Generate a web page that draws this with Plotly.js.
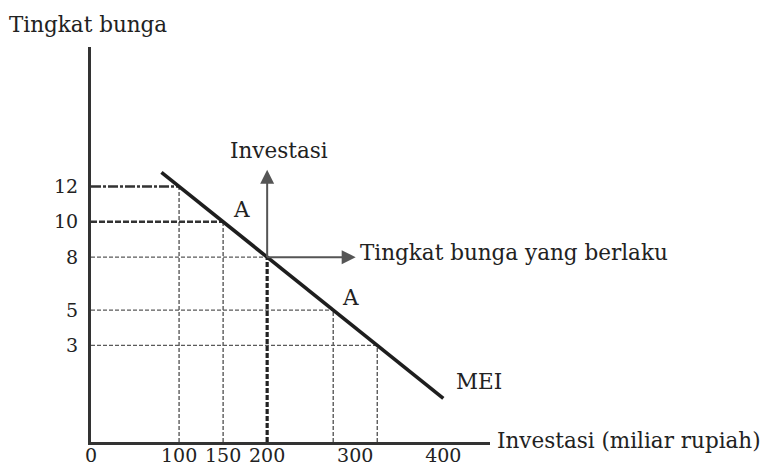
<!DOCTYPE html>
<html>
<head>
<meta charset="utf-8">
<script src="https://cdn.plot.ly/plotly-3.0.1.min.js"></script>
<style>html,body{margin:0;padding:0;background:#fff;}#chart{width:763px;height:465px;}</style>
</head>
<body>
<div id="chart"></div>
<script>
// Data
const rates = [12, 10, 8, 5, 3];               // Tingkat bunga (%)
const invest = [100, 150, 200, 275, 325];      // Investasi (miliar rupiah) at each rate
const meiInvest = [80, 400];                   // MEI curve ends
const meiRate = [12.8, 0];
const xTickVals = [0, 100, 150, 200, 300, 400];
const xTickText = ['0', '100', '150', '200', '300', '400'];
const yTickVals = [12, 10, 8, 5, 3];
const yTickText = ['12', '10', '8', '5', '3'];
const eqIndex = 2;  // prevailing rate (8 %)

// Styles
const FONT = 'DejaVu Serif';
const INK = '#222';
const GUIDE = '#5a5a5a';
const xRange = [0, 453];
const yRange = [-2.47, 19.9];
const hStyle = [
  {w: 2.6, dash: '10px,2px,3px,2px', c: '#333'},
  {w: 2.6, dash: '6px,2px', c: '#333'},
  {w: 1.4, dash: '4px,2px', c: GUIDE},
  {w: 1.4, dash: '4px,2px', c: GUIDE},
  {w: 1.4, dash: '4px,2px', c: GUIDE}
];
const vStyle = [
  {w: 1.4, dash: '4px,2px', c: GUIDE},
  {w: 1.4, dash: '4px,2px', c: GUIDE},
  {w: 3.2, dash: '5px,2px', c: '#222'},
  {w: 1.4, dash: '4px,2px', c: GUIDE},
  {w: 1.4, dash: '4px,2px', c: GUIDE}
];

const traces = [];
rates.forEach((r, i) => {
  traces.push({x: [xRange[0], invest[i]], y: [r, r], mode: 'lines', hoverinfo: 'skip',
    line: {color: hStyle[i].c, width: hStyle[i].w, dash: hStyle[i].dash}});
  traces.push({x: [invest[i], invest[i]], y: [yRange[0], r], mode: 'lines', hoverinfo: 'skip',
    line: {color: vStyle[i].c, width: vStyle[i].w, dash: vStyle[i].dash}});
});
traces.push({x: meiInvest, y: meiRate, mode: 'lines', name: 'MEI',
  line: {color: '#1e1e1e', width: 3.6}});

const ex = invest[eqIndex], ey = rates[eqIndex];
const TS = 21.5;
const txt = (s, extra) => Object.assign({text: s, showarrow: false, font: {family: FONT, size: TS, color: INK}}, extra);

const annotations = [
  txt('Tingkat bunga', {xref: 'paper', yref: 'paper', x: 0, y: 1, xanchor: 'left', yanchor: 'middle', xshift: -84, yshift: 23}),
  txt('Investasi (miliar rupiah)', {xref: 'paper', yref: 'paper', x: 1, y: 0, xanchor: 'left', yanchor: 'middle', xshift: 5, yshift: 2}),
  txt('Investasi', {x: ex, y: ey, xanchor: 'center', yanchor: 'middle', xshift: 12, yshift: 107}),
  txt('Tingkat bunga yang berlaku', {x: ex, y: ey, xanchor: 'left', yanchor: 'middle', xshift: 91, yshift: 5}),
  txt('A', {x: invest[1], y: rates[1], xanchor: 'center', yanchor: 'middle', xshift: 18, yshift: 12}),
  txt('A', {x: invest[3], y: rates[3], xanchor: 'center', yanchor: 'middle', xshift: 17, yshift: 13}),
  txt('MEI', {x: meiInvest[1], y: meiRate[1], xanchor: 'left', yanchor: 'middle', xshift: 11, yshift: 17}),
  {x: ex, y: ey, ax: 0, ay: -89, text: '', showarrow: true, arrowside: 'start', startarrowhead: 2, startarrowsize: 1.4, arrowwidth: 2, arrowcolor: '#555', standoff: 0, startstandoff: 0},
  {x: ex, y: ey, ax: 90, ay: 0, text: '', showarrow: true, arrowside: 'start', startarrowhead: 2, startarrowsize: 1.4, arrowwidth: 2, arrowcolor: '#555', standoff: 0, startstandoff: 0}
];

const axisFont = {family: FONT, size: 19, color: INK};
const layout = {
  width: 763, height: 465,
  margin: {l: 91, r: 273, t: 47, b: 23, pad: 0},
  paper_bgcolor: '#fff', plot_bgcolor: '#fff',
  showlegend: false,
  xaxis: {range: xRange, showgrid: false, zeroline: false, showline: true, linecolor: '#333', linewidth: 3,
    ticks: '', tickmode: 'array', tickvals: xTickVals, ticktext: xTickText, tickfont: axisFont, ticklabelstandoff: -6, fixedrange: true},
  yaxis: {range: yRange, showgrid: false, zeroline: false, showline: true, linecolor: '#333', linewidth: 3,
    ticks: '', tickmode: 'array', tickvals: yTickVals, ticktext: yTickText, tickfont: axisFont, ticklabelstandoff: 6, fixedrange: true},
  annotations: annotations
};

Plotly.newPlot('chart', traces, layout, {displayModeBar: false, staticPlot: true});
</script>
</body>
</html>
